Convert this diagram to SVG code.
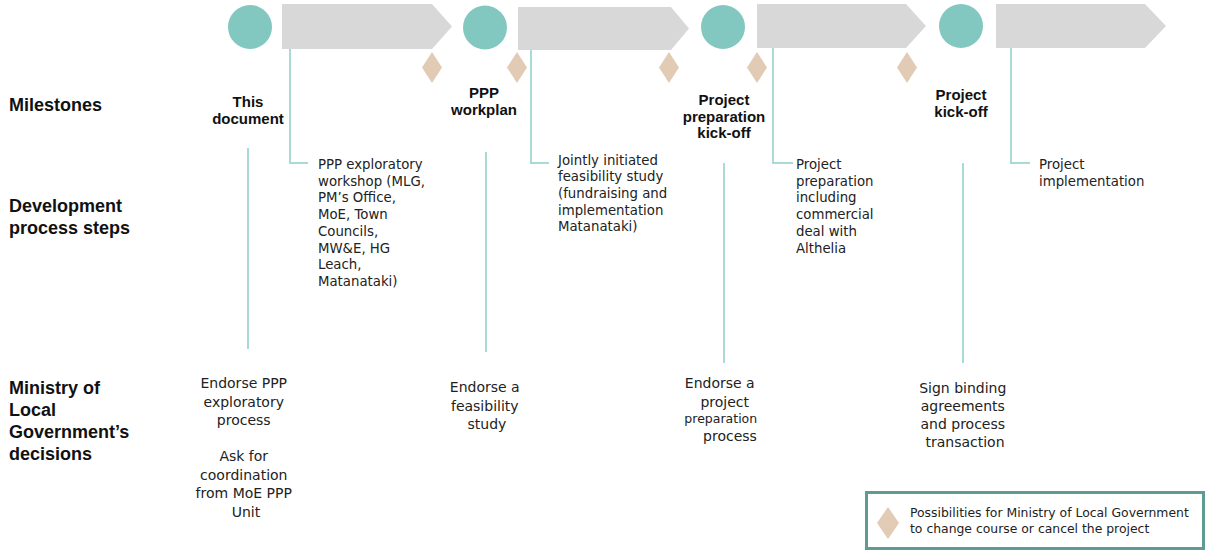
<svg xmlns="http://www.w3.org/2000/svg" width="1209" height="551" viewBox="0 0 1209 551">
<style>
.arrow{fill:#D8D8D8}
.ms{fill:#82C8C0}
.dia{fill:#E1CBB5}
.conn{fill:none;stroke:#AADAD4;stroke-width:2}
.hdr{font-family:"Liberation Sans",Arial,sans-serif;font-weight:bold;font-size:18px;fill:#111}
.mlab{font-family:"Liberation Sans",Arial,sans-serif;font-weight:bold;font-size:15px;fill:#111;text-anchor:middle}
.body{font-family:"DejaVu Sans",sans-serif;font-size:13.3px;fill:#222}
.dec{font-family:"DejaVu Sans",sans-serif;font-size:14px;fill:#222;text-anchor:middle}
.leg{font-family:"DejaVu Sans",sans-serif;font-size:12.4px;fill:#222}
</style>
<rect width="1209" height="551" fill="#FFFFFF"/>

<g id="row-headers">
<text class="hdr" x="9" y="111">Milestones</text>
<text class="hdr" x="9" y="212">Development</text>
<text class="hdr" x="9" y="234">process steps</text>
<text class="hdr" x="9" y="394">Ministry of</text>
<text class="hdr" x="9" y="416">Local</text>
<text class="hdr" x="9" y="438">Government’s</text>
<text class="hdr" x="9" y="460">decisions</text>
</g>

<g id="connectors">
<path class="conn" d="M290 49 V163 H308"/>
<path class="conn" d="M531 50 V163 H549"/>
<path class="conn" d="M773 48 V163 H793"/>
<path class="conn" d="M1011 48 V163 H1030"/>
<line class="conn" x1="248" y1="148" x2="248" y2="349"/>
<line class="conn" x1="486" y1="152" x2="486" y2="352"/>
<line class="conn" x1="724" y1="163" x2="724" y2="363"/>
<line class="conn" x1="963" y1="163" x2="963" y2="363"/>
</g>

<g id="phase-1"><polygon class="arrow" points="282,4 432,4 452,26.5 432,49 282,49"/></g>
<g id="phase-2"><polygon class="arrow" points="518,7 671,7 689,28.5 671,50 518,50"/></g>
<g id="phase-3"><polygon class="arrow" points="757,4 906,4 926,26 906,48 757,48"/></g>
<g id="phase-4"><polygon class="arrow" points="996,4 1145,4 1166,26 1145,48 996,48"/></g>

<g id="milestone-1"><circle class="ms" cx="250" cy="27" r="22"/>
<text class="mlab" x="248" y="107">This</text><text class="mlab" x="248" y="124">document</text></g>
<g id="milestone-2"><circle class="ms" cx="485" cy="27.5" r="22"/>
<text class="mlab" x="484" y="98">PPP</text><text class="mlab" x="484" y="115">workplan</text></g>
<g id="milestone-3"><circle class="ms" cx="723" cy="27" r="22"/>
<text class="mlab" x="724" y="105">Project</text><text class="mlab" x="724" y="122">preparation</text><text class="mlab" x="724" y="138">kick-off</text></g>
<g id="milestone-4"><circle class="ms" cx="961" cy="26" r="22"/>
<text class="mlab" x="961" y="100">Project</text><text class="mlab" x="961" y="117">kick-off</text></g>

<g id="decision-points">
<polygon class="dia" points="432,52 442,67.5 432,83 422,67.5"/>
<polygon class="dia" points="517,52 527,67.5 517,83 507,67.5"/>
<polygon class="dia" points="669,52 679,67.5 669,83 659,67.5"/>
<polygon class="dia" points="757,52 767,67.5 757,83 747,67.5"/>
<polygon class="dia" points="907,52 917,67.5 907,83 897,67.5"/>
</g>

<g id="step-1"><text class="body">
<tspan x="318" y="169">PPP exploratory</tspan>
<tspan x="318" y="185.7">workshop (MLG,</tspan>
<tspan x="318" y="202.4">PM’s Office,</tspan>
<tspan x="318" y="219.1">MoE, Town</tspan>
<tspan x="318" y="235.8">Councils,</tspan>
<tspan x="318" y="252.5">MW&amp;E, HG</tspan>
<tspan x="318" y="269.2">Leach,</tspan>
<tspan x="318" y="285.9">Matanataki)</tspan>
</text></g>
<g id="step-2"><text class="body">
<tspan x="558" y="164.5">Jointly initiated</tspan>
<tspan x="558" y="181.2">feasibility study</tspan>
<tspan x="558" y="197.9">(fundraising and</tspan>
<tspan x="558" y="214.6">implementation</tspan>
<tspan x="558" y="231.3">Matanataki)</tspan>
</text></g>
<g id="step-3"><text class="body">
<tspan x="796" y="169">Project</tspan>
<tspan x="796" y="185.7">preparation</tspan>
<tspan x="796" y="202.4">including</tspan>
<tspan x="796" y="219.1">commercial</tspan>
<tspan x="796" y="235.8">deal with</tspan>
<tspan x="796" y="252.5">Althelia</tspan>
</text></g>
<g id="step-4"><text class="body">
<tspan x="1039" y="169">Project</tspan>
<tspan x="1039" y="185.7">implementation</tspan>
</text></g>

<g id="decision-1"><text class="dec">
<tspan x="246" y="388">Endorse PPP</tspan>
<tspan x="246" y="406.5">exploratory</tspan>
<tspan x="246" y="425">process</tspan>
<tspan x="246" y="461">Ask for</tspan>
<tspan x="246" y="479.5">coordination</tspan>
<tspan x="246" y="498">from MoE PPP</tspan>
<tspan x="246" y="516.5">Unit</tspan>
</text></g>
<g id="decision-2"><text class="dec">
<tspan x="487" y="392">Endorse a</tspan>
<tspan x="487" y="410.5">feasibility</tspan>
<tspan x="487" y="429">study</tspan>
</text></g>
<g id="decision-3"><text class="dec">
<tspan x="722" y="388">Endorse a</tspan>
<tspan x="727" y="406.5">project</tspan>
<tspan x="723" y="423" font-size="12.5">preparation</tspan>
<tspan x="730" y="441">process</tspan>
</text></g>
<g id="decision-4"><text class="dec">
<tspan x="965" y="393">Sign binding</tspan>
<tspan x="965" y="411">agreements</tspan>
<tspan x="965" y="429">and process</tspan>
<tspan x="965" y="447">transaction</tspan>
</text></g>

<g id="legend">
<rect x="866.5" y="492.5" width="337" height="56" fill="#FFFFFF" stroke="#5F9A94" stroke-width="3"/>
<polygon class="dia" points="888,507 899,523 888,539 877,523"/>
<text class="leg" x="910" y="517">Possibilities for Ministry of Local Government</text>
<text class="leg" x="910" y="533">to change course or cancel the project</text>
</g>
</svg>
